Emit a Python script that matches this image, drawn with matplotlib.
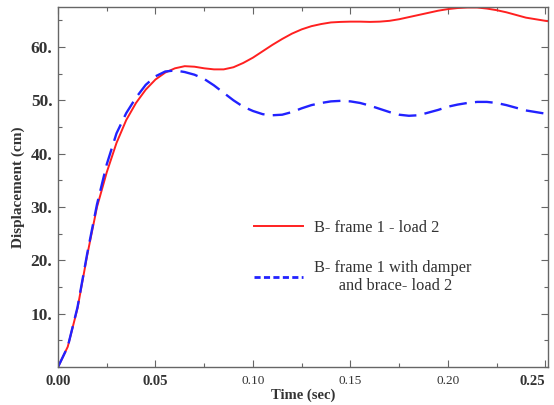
import matplotlib.pyplot as plt
from matplotlib.lines import Line2D
from matplotlib.ticker import MultipleLocator

plt.rcParams['font.family'] = ['Liberation Serif', 'DejaVu Serif']

# time history, sec
t = [0.0, 0.005, 0.01, 0.015, 0.02, 0.025, 0.03, 0.035, 0.04, 0.045, 0.05,
     0.055, 0.06, 0.065, 0.07, 0.075, 0.08, 0.085, 0.09, 0.095, 0.10,
     0.105, 0.11, 0.115, 0.12, 0.125, 0.13, 0.135, 0.14, 0.145, 0.15,
     0.155, 0.16, 0.165, 0.17, 0.175, 0.18, 0.185, 0.19, 0.195, 0.20,
     0.205, 0.21, 0.215, 0.22, 0.225, 0.23, 0.235, 0.24, 0.245, 0.25, 0.251]

# displacement, cm
d_frame = [0.0, 3.8, 11.0, 21.0, 30.0, 36.5, 42.0, 46.3, 49.5, 52.0, 53.9,
           55.2, 56.0, 56.4, 56.3, 56.0, 55.8, 55.8, 56.2, 57.0, 58.0,
           59.2, 60.4, 61.5, 62.5, 63.3, 63.9, 64.3, 64.6, 64.7, 64.75,
           64.75, 64.7, 64.75, 64.9, 65.2, 65.6, 66.0, 66.4, 66.8, 67.1,
           67.3, 67.4, 67.4, 67.2, 66.9, 66.5, 66.0, 65.5, 65.2, 64.9, 64.85]
d_damper = [0.0, 3.8, 11.2, 21.3, 30.5, 38.0, 43.8, 47.6, 50.5, 52.9, 54.5,
            55.4, 55.6, 55.3, 54.8, 54.0, 52.8, 51.4, 50.0, 48.8, 48.0,
            47.4, 47.2, 47.3, 47.8, 48.5, 49.1, 49.5, 49.8, 49.9, 49.8,
            49.5, 49.0, 48.4, 47.8, 47.3, 47.1, 47.2, 47.7, 48.2, 48.8,
            49.2, 49.5, 49.7, 49.7, 49.5, 49.1, 48.6, 48.1, 47.8, 47.5, 47.4]

xticks = [0.0, 0.05, 0.10, 0.15, 0.20, 0.25]
xlabels = ['0.00', '0.05', '0.10', '0.15', '0.20', '0.25']
yticks = [10, 20, 30, 40, 50, 60]
ylabels = ['10.', '20.', '30.', '40.', '50.', '60.']

red = '#ff2020'
blue = '#2222ff'

fig = plt.figure(figsize=(5.54, 4.05), dpi=100)
ax = fig.add_axes([0.1047, 0.0938, 0.8843, 0.889])

ax.plot(t, d_frame, color=red, lw=1.4)
ax.plot(t, d_damper, color=blue, lw=1.7, dashes=(7.5, 3.5))

ax.set_xlim(0, 0.2513)
ax.set_ylim(0, 67.5)
ax.set_xticks(xticks)
ax.set_xticklabels(xlabels)
ax.set_yticks(yticks)
ax.set_yticklabels(ylabels)
ax.xaxis.set_minor_locator(MultipleLocator(0.025))
ax.yaxis.set_minor_locator(MultipleLocator(5))
ax.tick_params(which='both', direction='in', top=True, right=True,
               color='#666666', labelcolor='#333333')
ax.tick_params(which='major', length=5, width=0.8)
ax.tick_params(which='minor', length=3, width=0.8)
ax.tick_params(axis='x', labelsize=10.5, pad=6)
ax.tick_params(axis='y', labelsize=12.5, pad=4)
for lab in ax.get_xticklabels() + ax.get_yticklabels():
    lab.set_fontweight('bold')
for lab in ax.get_xticklabels()[2:5]:
    lab.set_fontweight('normal')
    lab.set_fontsize(9.5)
ax.get_xticklabels()[-1].set_horizontalalignment('right')
for s in ax.spines.values():
    s.set_color('#666666')
    s.set_linewidth(1.0)

ax.set_xlabel('Time (sec)', fontsize=10.5, fontweight='bold', color='#333333', labelpad=0)
ax.set_ylabel('Displacement (cm)', fontsize=11, fontweight='bold', color='#333333', labelpad=4)

# legend with short-dash handle for the damper case
handles = [Line2D([], [], color=red, lw=1.4),
           Line2D([], [], color=blue, lw=2.0, dashes=(2.2, 1.2))]
labels = ['B- frame 1 - load 2', 'B- frame 1 with damper\n      and brace- load 2']
leg = ax.legend(handles, labels, loc='upper left', bbox_to_anchor=(0.37, 0.45),
                frameon=False, fontsize=11.8, handlelength=3.0,
                handletextpad=0.67, labelspacing=1.5)
for txt in leg.get_texts():
    txt.set_color('#333333')
    txt.set_linespacing(1.15)

fig.savefig('out.png', dpi=100)
